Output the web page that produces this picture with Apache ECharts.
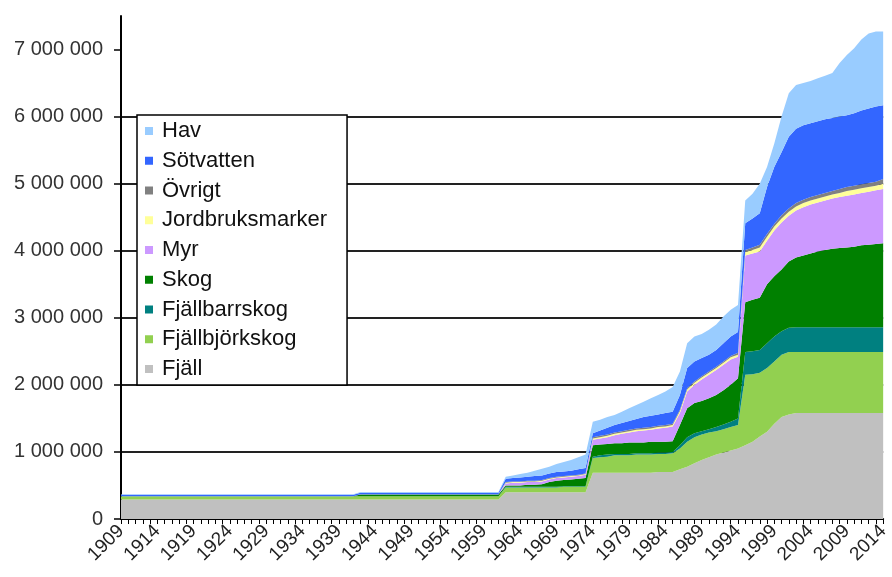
<!DOCTYPE html>
<html>
<head>
<meta charset="utf-8">
<title>Skyddad areal per naturtyp</title>
<script src="https://cdn.jsdelivr.net/npm/echarts@6/dist/echarts.min.js"></script>
<style>
  html, body { margin: 0; padding: 0; background: #fff; }
  #main { width: 892px; height: 577px; }
</style>
</head>
<body>
<div id="main"></div>
<script>
// årtal 1909-2014
var years = [
  '1909','1910','1911','1912','1913','1914','1915','1916','1917','1918','1919','1920','1921','1922','1923','1924','1925','1926',
  '1927','1928','1929','1930','1931','1932','1933','1934','1935','1936','1937','1938','1939','1940','1941','1942','1943','1944',
  '1945','1946','1947','1948','1949','1950','1951','1952','1953','1954','1955','1956','1957','1958','1959','1960','1961','1962',
  '1963','1964','1965','1966','1967','1968','1969','1970','1971','1972','1973','1974','1975','1976','1977','1978','1979','1980',
  '1981','1982','1983','1984','1985','1986','1987','1988','1989','1990','1991','1992','1993','1994','1995','1996','1997','1998',
  '1999','2000','2001','2002','2003','2004','2005','2006','2007','2008','2009','2010','2011','2012','2013','2014'
];

// areal (ha) per naturtyp
var fjall = [
  290000,290000,290000,290000,290000,290000,290000,290000,290000,290000,290000,
  290000,290000,290000,290000,290000,290000,290000,290000,290000,290000,290000,
  290000,290000,290000,290000,290000,290000,290000,290000,290000,290000,290000,
  290000,290000,290000,290000,290000,290000,290000,290000,290000,290000,
  290000,290000,290000,290000,290000,290000,290000,290000,290000,290000,
  400000,400000,400000,400000,400000,400000,400000,400000,400000,400000,400000,400000,
  690000,690000,690000,690000,690000,690000,690000,690000,690000,700000,700000,
  700000,740000,780000,830000,880000,920000,960000,990000,1020000,1050000,
  1100000,1150000,1230000,1300000,1420000,1520000,1560000,1580000,1580000,1580000,
  1580000,1580000,1580000,1580000,1580000,1580000,1580000,1580000,1580000,1580000
];
var fjallbjorkskog = [
  50000,50000,50000,50000,50000,50000,50000,50000,50000,50000,50000,
  50000,50000,50000,50000,50000,50000,50000,50000,50000,50000,50000,
  50000,50000,50000,50000,50000,50000,50000,50000,50000,50000,50000,
  50000,50000,50000,50000,50000,50000,50000,50000,50000,50000,
  50000,50000,50000,50000,50000,50000,50000,50000,50000,50000,
  70000,70000,70000,70000,70000,70000,70000,70000,80000,80000,80000,80000,
  220000,230000,240000,260000,260000,260000,270000,270000,270000,270000,270000,
  280000,310000,370000,390000,380000,370000,350000,350000,350000,350000,
  1050000,1010000,950000,950000,930000,930000,930000,910000,910000,910000,
  910000,910000,910000,910000,910000,910000,910000,910000,910000,910000
];
var fjallbarrskog = [
  0,0,0,0,0,0,0,0,0,0,0,
  0,0,0,0,0,0,0,0,0,0,0,
  0,0,0,0,0,0,0,0,0,0,0,
  0,0,0,0,0,0,0,0,0,0,
  0,0,0,0,0,0,0,0,0,0,
  10000,10000,10000,10000,10000,10000,10000,10000,10000,10000,10000,10000,
  20000,30000,30000,20000,20000,20000,20000,20000,20000,20000,20000,
  20000,50000,70000,60000,50000,50000,60000,70000,80000,100000,
  340000,340000,340000,370000,370000,350000,360000,370000,370000,370000,
  370000,370000,370000,370000,370000,370000,370000,370000,370000,370000
];
var skog = [
  0,0,0,0,0,0,0,0,0,0,0,
  0,0,0,0,0,0,0,0,0,0,0,
  0,0,0,0,0,0,0,0,0,0,0,
  25000,25000,25000,25000,25000,25000,25000,25000,25000,25000,
  25000,25000,25000,25000,25000,25000,25000,25000,25000,25000,
  20000,20000,20000,30000,30000,40000,70000,90000,90000,100000,110000,120000,
  170000,160000,160000,160000,160000,170000,160000,160000,170000,160000,160000,
  160000,300000,430000,450000,450000,460000,480000,510000,550000,600000,
  740000,770000,780000,880000,900000,920000,990000,1040000,1070000,1100000,
  1130000,1150000,1170000,1180000,1190000,1200000,1220000,1230000,1240000,1250000
];
var myr = [
  0,0,0,0,0,0,0,0,0,0,0,
  0,0,0,0,0,0,0,0,0,0,0,
  0,0,0,0,0,0,0,0,0,0,0,
  5000,5000,5000,5000,5000,5000,5000,5000,5000,5000,
  5000,5000,5000,5000,5000,5000,5000,5000,5000,5000,
  30000,40000,40000,40000,40000,40000,40000,40000,40000,40000,40000,50000,
  80000,90000,100000,120000,140000,150000,170000,180000,180000,200000,210000,
  220000,180000,250000,270000,320000,350000,370000,380000,380000,320000,
  700000,690000,690000,650000,680000,700000,680000,700000,720000,730000,
  730000,740000,750000,760000,770000,780000,780000,790000,800000,810000
];
var jordbruksmarker = [
  0,0,0,0,0,0,0,0,0,0,0,
  0,0,0,0,0,0,0,0,0,0,0,
  0,0,0,0,0,0,0,0,0,0,0,
  0,0,0,0,0,0,0,0,0,0,
  0,0,0,0,0,0,0,0,0,0,
  10000,10000,10000,10000,10000,10000,10000,10000,10000,10000,10000,10000,
  20000,20000,20000,20000,20000,20000,20000,20000,20000,20000,20000,
  20000,30000,30000,30000,30000,30000,30000,30000,30000,30000,
  50000,50000,60000,60000,60000,60000,60000,60000,60000,60000,
  60000,60000,60000,60000,70000,70000,70000,70000,70000,80000
];
var ovrigt = [
  0,0,0,0,0,0,0,0,0,0,0,
  0,0,0,0,0,0,0,0,0,0,0,
  0,0,0,0,0,0,0,0,0,0,0,
  0,0,0,0,0,0,0,0,0,0,
  0,0,0,0,0,0,0,0,0,0,
  10000,10000,10000,10000,10000,10000,10000,10000,10000,10000,10000,10000,
  20000,20000,20000,20000,20000,20000,20000,20000,20000,20000,20000,
  20000,20000,20000,20000,20000,20000,20000,20000,20000,30000,
  30000,40000,40000,40000,40000,50000,50000,50000,50000,50000,
  50000,50000,50000,60000,60000,60000,60000,60000,60000,70000
];
var sotvatten = [
  20000,20000,20000,20000,20000,20000,20000,20000,20000,20000,20000,
  20000,20000,20000,20000,20000,20000,20000,20000,20000,20000,20000,
  20000,20000,20000,20000,20000,20000,20000,20000,20000,20000,20000,
  22000,22000,22000,22000,22000,22000,22000,22000,22000,22000,
  22000,22000,22000,22000,22000,22000,22000,22000,22000,22000,
  50000,50000,60000,60000,70000,70000,70000,70000,70000,70000,80000,80000,
  60000,80000,100000,110000,120000,130000,140000,160000,170000,170000,180000,
  180000,220000,300000,300000,270000,250000,250000,270000,290000,310000,
  400000,430000,470000,700000,850000,940000,1070000,1110000,1110000,1100000,
  1100000,1100000,1090000,1080000,1070000,1080000,1100000,1110000,1120000,1100000
];
var hav = [
  10000,10000,10000,10000,10000,10000,10000,10000,10000,10000,10000,
  10000,10000,10000,10000,10000,10000,10000,10000,10000,10000,10000,
  10000,10000,10000,10000,10000,10000,10000,10000,10000,10000,10000,
  10000,10000,10000,10000,10000,10000,10000,10000,10000,10000,
  10000,10000,10000,10000,10000,10000,10000,10000,10000,10000,
  30000,40000,50000,60000,80000,100000,100000,120000,140000,160000,180000,200000,
  170000,160000,160000,150000,170000,190000,210000,230000,260000,290000,320000,
  370000,350000,370000,370000,360000,370000,380000,400000,400000,400000,
  340000,370000,440000,300000,350000,530000,650000,650000,630000,630000,
  640000,650000,670000,800000,900000,970000,1060000,1120000,1120000,1100000
];

var yTicks = [0, 1000000, 2000000, 3000000, 4000000, 5000000, 6000000, 7000000];

// staplas nerifrån och upp
var layers = [
  { name: 'Fjäll', data: fjall, color: '#c0c0c0' },
  { name: 'Fjällbjörkskog', data: fjallbjorkskog, color: '#92d050' },
  { name: 'Fjällbarrskog', data: fjallbarrskog, color: '#008080' },
  { name: 'Skog', data: skog, color: '#008000' },
  { name: 'Myr', data: myr, color: '#cc99ff' },
  { name: 'Jordbruksmarker', data: jordbruksmarker, color: '#ffff99' },
  { name: 'Övrigt', data: ovrigt, color: '#808080' },
  { name: 'Sötvatten', data: sotvatten, color: '#3366ff' },
  { name: 'Hav', data: hav, color: '#99ccff' }
];

var font = "'Liberation Sans', Arial, sans-serif";

var chart = echarts.init(document.getElementById('main'));

chart.setOption({
  animation: false,
  backgroundColor: '#fff',
  color: layers.map(function (l) { return l.color; }),
  grid: { left: 121, right: 2, top: 16, bottom: 58 },
  legend: {
    orient: 'vertical',
    left: 137,
    top: 115,
    data: layers.map(function (l) { return l.name; }).reverse(),
    icon: 'rect',
    itemWidth: 8,
    itemHeight: 8,
    itemGap: 7.75,
    padding: [5, 20, 5, 8],
    backgroundColor: '#fff',
    borderColor: '#000',
    borderWidth: 1.5,
    textStyle: {
      fontFamily: font,
      fontSize: 22,
      lineHeight: 22,
      color: '#111',
      padding: [0, 0, 0, 4]
    }
  },
  xAxis: {
    type: 'category',
    data: years,
    boundaryGap: false,
    axisLine: { lineStyle: { color: '#000', width: 2 } },
    axisTick: { interval: 0, length: 5, lineStyle: { color: '#000', width: 1 } },
    axisLabel: {
      interval: 4,
      rotate: 45,
      margin: 9,
      fontFamily: font,
      fontSize: 19,
      color: '#222'
    },
    splitLine: { show: false }
  },
  yAxis: {
    type: 'value',
    min: 0,
    max: 7500000,
    interval: 1000000,
    axisLine: { show: true, lineStyle: { color: '#000', width: 2 } },
    axisTick: { show: true, length: 7, customValues: yTicks, lineStyle: { color: '#000', width: 1.5 } },
    axisLabel: {
      customValues: yTicks,
      margin: 18,
      fontFamily: font,
      fontSize: 20,
      color: '#333',
      formatter: function (v) {
        return String(v).replace(/\B(?=(\d{3})+(?!\d))/g, ' ');
      }
    },
    splitLine: { show: true, showMaxLine: false, lineStyle: { color: '#222', width: 2 } }
  },
  series: layers.map(function (l) {
    return {
      name: l.name,
      type: 'line',
      stack: 'areal',
      data: l.data,
      showSymbol: false,
      symbol: 'none',
      lineStyle: { width: 0 },
      areaStyle: { color: l.color, opacity: 1 },
      itemStyle: { color: l.color }
    };
  })
});
</script>
</body>
</html>
